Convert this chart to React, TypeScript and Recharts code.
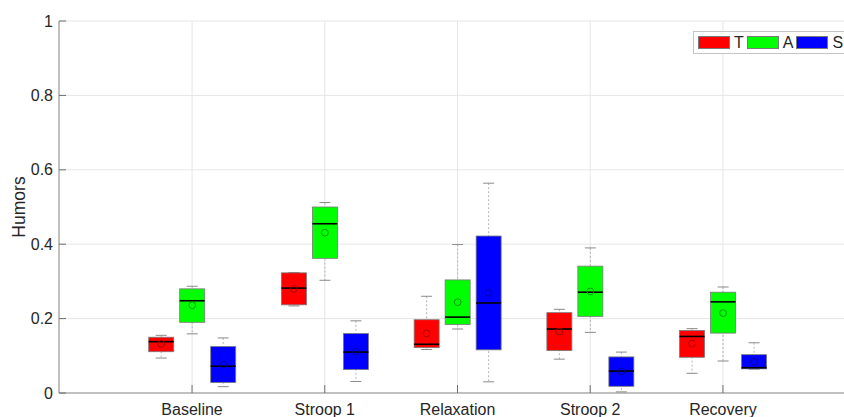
import React from 'react';
import { ComposedChart, Bar, XAxis, YAxis, CartesianGrid } from 'recharts';

const categories = ['Baseline', 'Stroop 1', 'Relaxation', 'Stroop 2', 'Recovery'];
const seriesNames = ['T', 'A', 'S'];
const seriesColors = ['#FF0000', '#00FF00', '#0000FF'];
const meanColors = ['#A80000', '#009A00', '#0000A0'];
const yTicks = [0, 0.2, 0.4, 0.6, 0.8, 1];

// T
const tMin = [0.094, 0.234, 0.117, 0.091, 0.053];
const tQ1 = [0.111, 0.237, 0.122, 0.114, 0.096];
const tMed = [0.138, 0.282, 0.131, 0.172, 0.152];
const tQ3 = [0.150, 0.323, 0.197, 0.216, 0.168];
const tMax = [0.155, 0.324, 0.260, 0.225, 0.173];
const tMean = [0.132, 0.280, 0.160, 0.165, 0.133];
// A
const aMin = [0.159, 0.303, 0.172, 0.163, 0.086];
const aQ1 = [0.190, 0.362, 0.184, 0.206, 0.161];
const aMed = [0.248, 0.455, 0.204, 0.271, 0.245];
const aQ3 = [0.280, 0.500, 0.304, 0.341, 0.271];
const aMax = [0.287, 0.512, 0.399, 0.390, 0.285];
const aMean = [0.236, 0.431, 0.244, 0.273, 0.215];
// S
const sMin = [0.017, 0.031, 0.030, 0.003, 0.064];
const sQ1 = [0.028, 0.063, 0.116, 0.018, 0.065];
const sMed = [0.072, 0.110, 0.242, 0.059, 0.068];
const sQ3 = [0.125, 0.160, 0.422, 0.097, 0.103];
const sMax = [0.148, 0.194, 0.564, 0.110, 0.135];
const sMean = [0.076, 0.111, 0.269, 0.058, 0.084];

const stats = [
  { min: tMin, q1: tQ1, med: tMed, q3: tQ3, max: tMax, mean: tMean },
  { min: aMin, q1: aQ1, med: aMed, q3: aQ3, max: aMax, mean: aMean },
  { min: sMin, q1: sQ1, med: sMed, q3: sQ3, max: sMax, mean: sMean },
];

const data = categories.map((name, i) => {
  const row: any = { name };
  seriesNames.forEach((s, k) => {
    row[s + '_min'] = stats[k].min[i];
    row[s + '_q1'] = stats[k].q1[i];
    row[s + '_med'] = stats[k].med[i];
    row[s + '_q3'] = stats[k].q3[i];
    row[s + '_max'] = stats[k].max[i];
    row[s + '_mean'] = stats[k].mean[i];
  });
  return row;
});

const FONT = '"Liberation Sans", Arial, Helvetica, sans-serif';
const TEXT = '#262626';

const WhiskerShape = (props: any) => {
  const { x, y, width, height } = props;
  if (x == null || y == null) return null;
  const cx = x + width / 2;
  return (
    <g>
      <line x1={cx} x2={cx} y1={y} y2={y + height} stroke="#b4b4b4" strokeWidth={1} strokeDasharray="2 2" />
      <line x1={cx - 5.5} x2={cx + 5.5} y1={y} y2={y} stroke="#8a8a8a" strokeWidth={1} />
      <line x1={cx - 5.5} x2={cx + 5.5} y1={y + height} y2={y + height} stroke="#8a8a8a" strokeWidth={1} />
    </g>
  );
};

const makeBoxShape = (color: string) => (props: any) => {
  const { x, y, width, height } = props;
  if (x == null || y == null) return null;
  return <rect x={x} y={y} width={width} height={Math.max(height, 0)} fill={color} stroke="#7a7a7a" strokeWidth={0.8} />;
};

const MedianShape = (props: any) => {
  const { x, y, width } = props;
  if (x == null || y == null) return null;
  return <line x1={x} x2={x + width} y1={y} y2={y} stroke="#000" strokeWidth={1.6} />;
};

const makeMeanShape = (color: string) => (props: any) => {
  const { x, y, width } = props;
  if (x == null || y == null) return null;
  return <circle cx={x + width / 2} cy={y} r={3.4} fill="none" stroke={color} strokeWidth={1} />;
};

const BottomTick = (props: any) => {
  const { x, y, payload } = props;
  return (
    <g>
      <line x1={x} x2={x} y1={y} y2={y - 8} stroke="#6e6e6e" strokeWidth={1} />
      <text x={x} y={y + 21.5} textAnchor="middle" fill={TEXT} fontSize={16} fontFamily={FONT}>
        {payload.value}
      </text>
    </g>
  );
};

const TopTick = (props: any) => {
  const { x, y } = props;
  return <line x1={x} x2={x} y1={y} y2={y + 8} stroke="#6e6e6e" strokeWidth={1} />;
};

const LeftTick = (props: any) => {
  const { x, y, payload } = props;
  return (
    <g>
      <line x1={x} x2={x + 7} y1={y} y2={y} stroke="#6e6e6e" strokeWidth={1} />
      <text x={x - 6} y={y} dy="0.355em" textAnchor="end" fill={TEXT} fontSize={16} fontFamily={FONT}>
        {payload.value}
      </text>
    </g>
  );
};

const YLabel = (props: any) => {
  const vb = props.viewBox || {};
  const cy = (vb.y || 0) + (vb.height || 0) / 2;
  const tx = 25;
  return (
    <text x={tx} y={cy} transform={`rotate(-90, ${tx}, ${cy})`} textAnchor="middle" fill={TEXT} fontSize={17.5} fontFamily={FONT}>
      Humors
    </text>
  );
};

const layers = ['whisker', 'box', 'median', 'mean'];
const padding = { left: 66.7, right: 66.7 };

export default function App() {
  return (
    <div style={{ position: 'absolute', left: 0, top: 0, width: 844, height: 417, overflow: 'hidden', background: '#fff' }}>
      <ComposedChart
        width={880}
        height={417}
        data={data}
        margin={{ top: 21, right: 24, bottom: 0, left: 0 }}
        barGap={6}
      >
        <CartesianGrid xAxisId="whisker" stroke="#e6e6e6" strokeWidth={1} />
        <XAxis
          xAxisId="whisker"
          dataKey="name"
          type="category"
          padding={padding}
          height={24}
          tickSize={0}
          tickMargin={0}
          axisLine={{ stroke: '#8c8c8c' }}
          tickLine={false}
          tick={<BottomTick />}
          interval={0}
        />
        {layers.slice(1).map((l) => (
          <XAxis key={l} xAxisId={l} dataKey="name" type="category" padding={padding} height={0} hide />
        ))}
        <XAxis
          xAxisId="top"
          orientation="top"
          dataKey="name"
          type="category"
          padding={padding}
          height={0}
          tickSize={0}
          tickMargin={0}
          axisLine={{ stroke: '#8c8c8c' }}
          tickLine={false}
          tick={<TopTick />}
          interval={0}
        />
        <YAxis
          domain={[0, 1]}
          ticks={yTicks}
          width={59}
          tickSize={0}
          tickMargin={0}
          axisLine={{ stroke: '#8c8c8c' }}
          tickLine={false}
          tick={<LeftTick />}
          interval={0}
          label={<YLabel />}
        />
        {seriesNames.map((s) => (
          <Bar key={'w' + s} xAxisId="whisker" dataKey={(d: any) => [d[s + '_min'], d[s + '_max']]} barSize={25} shape={<WhiskerShape />} isAnimationActive={false} />
        ))}
        {seriesNames.map((s, k) => {
          const Shape = makeBoxShape(seriesColors[k]);
          return <Bar key={'b' + s} xAxisId="box" dataKey={(d: any) => [d[s + '_q1'], d[s + '_q3']]} barSize={25} shape={<Shape />} isAnimationActive={false} />;
        })}
        {seriesNames.map((s) => (
          <Bar key={'m' + s} xAxisId="median" dataKey={(d: any) => [0, d[s + '_med']]} barSize={25} shape={<MedianShape />} isAnimationActive={false} />
        ))}
        {seriesNames.map((s, k) => {
          const Shape = makeMeanShape(meanColors[k]);
          return <Bar key={'a' + s} xAxisId="mean" dataKey={(d: any) => [0, d[s + '_mean']]} barSize={25} shape={<Shape />} isAnimationActive={false} />;
        })}
      </ComposedChart>
      <div
        style={{
          position: 'absolute',
          left: 693,
          top: 31,
          height: 21,
          border: '1px solid #c4c4c4',
          background: '#fff',
          display: 'flex',
          alignItems: 'center',
          paddingLeft: 4,
          paddingRight: 12,
          fontFamily: FONT,
          fontSize: 16,
          color: TEXT,
          whiteSpace: 'nowrap',
        }}
      >
        {seriesNames.map((s, k) => (
          <div key={s} style={{ display: 'flex', alignItems: 'center', marginRight: 3 }}>
            <div style={{ width: 30, height: 11, background: seriesColors[k], border: '1px solid #7a7a7a', marginRight: 4 }} />
            <span>{s}</span>
          </div>
        ))}
      </div>
    </div>
  );
}
